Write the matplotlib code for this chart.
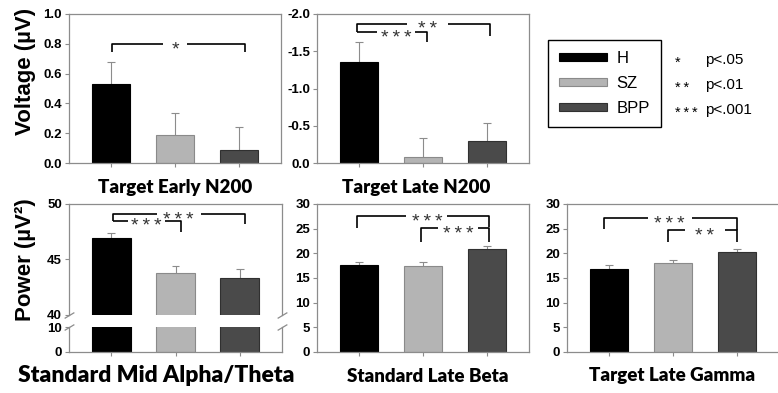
import numpy as np
import matplotlib
matplotlib.use("Agg")
import matplotlib.pyplot as plt

plt.rcParams['axes.unicode_minus'] = False

# group names and bar colours
groups = ['H', 'SZ', 'BPP']
face_colors = ['#000000', '#b4b4b4', '#4a4a4a']
edge_colors = ['#000000', '#8a8a8a', '#303030']

# values (mean, upper error)
early_n200 = [0.53, 0.19, 0.085]
early_n200_err = [0.15, 0.145, 0.155]
late_n200 = [-1.35, -0.08, -0.29]
late_n200_err = [0.27, 0.25, 0.25]
alpha_theta = [46.9, 43.8, 43.3]
alpha_theta_err = [0.5, 0.6, 0.8]
late_beta = [17.6, 17.5, 20.9]
late_beta_err = [0.6, 0.7, 0.5]
late_gamma = [16.9, 18.0, 20.3]
late_gamma_err = [0.7, 0.6, 0.6]

p_stars = ['*', '**', '***']
p_labels = ['p<.05', 'p<.01', 'p<.001']

W, H = 778, 393
fig = plt.figure(figsize=(W / 100, H / 100), dpi=100)

TICK_FONT = dict(family='Liberation Sans', weight='bold', size=9.5)
TITLE_FONT = dict(family='Lato', weight='heavy', size=13.5)
STAR_SIZE = 14
THIN = '\u2009'


def spaced(s):
    # asterisks in the figure are set apart a little
    return THIN.join(s)


def px_axes(left, top, right, bottom):
    # add an axes using pixel edges measured from the top-left corner
    return fig.add_axes([left / W, 1 - bottom / H, (right - left) / W, (bottom - top) / H])


def style_axes(ax, ylim, yticks, fmt):
    ax.set_xlim(-0.66, 2.66)
    ax.set_ylim(*ylim)
    ax.set_yticks(yticks)
    ax.set_yticklabels([fmt.format(t) for t in yticks], **TICK_FONT)
    ax.set_xticks(range(len(groups)))
    ax.set_xticklabels([])
    for s in ax.spines.values():
        s.set_color('#8c8c8c')
        s.set_linewidth(0.9)
    ax.tick_params(length=3, width=0.8, color='#8c8c8c', labelcolor='black', pad=2)


def draw_bars(ax, values, errors):
    x = np.arange(len(values))
    bars = ax.bar(x, values, width=0.6, color=face_colors, edgecolor=edge_colors,
                  linewidth=0.8, zorder=2)
    vals = np.array(values)
    tips = vals + np.sign(vals) * np.array(errors)
    ax.vlines(x, vals, tips, color='#8c8c8c', lw=0.8, zorder=1)
    ax.hlines(tips, x - 0.06, x + 0.06, color='#8c8c8c', lw=0.8, zorder=1)
    return bars


def bracket(ax, x1, x2, y, y1, y2, label, lx, gap):
    kw = dict(color='black', lw=1.2, solid_capstyle='butt', clip_on=False)
    ax.plot([x1, x1, lx - gap], [y1, y, y], **kw)
    ax.plot([lx + gap, x2, x2], [y, y, y2], **kw)
    ax.annotate(spaced(label), (lx, y), xytext=(0, -0.55 * STAR_SIZE),
                textcoords='offset points', ha='center', va='baseline', color='#333333',
                family='Liberation Sans', size=STAR_SIZE, annotation_clip=False)


def break_marks(ax, yaxes):
    d = 0.6
    ax.plot([0, 1], [yaxes, yaxes], transform=ax.transAxes, marker=[(-1, -d), (1, d)],
            markersize=7, linestyle='none', color='#8c8c8c', mec='#8c8c8c', mew=0.9,
            clip_on=False)


# top left: target early N200
ax1 = px_axes(69, 14, 281, 163)
bars = draw_bars(ax1, early_n200, early_n200_err)
style_axes(ax1, (0, 1.0), [0, 0.2, 0.4, 0.6, 0.8, 1.0], '{:.1f}')
bracket(ax1, 0.02, 2.09, 0.80, 0.745, 0.745, '*', 1.0, 0.195)

# top middle: target late N200 (negative up)
ax2 = px_axes(317, 14, 529, 163)
draw_bars(ax2, late_n200, late_n200_err)
style_axes(ax2, (0, -2.0), [0, -0.5, -1.0, -1.5, -2.0], '{:.1f}')
bracket(ax2, -0.03, 2.05, -1.87, -1.76, -1.70, '**', 1.07, 0.32)
bracket(ax2, -0.03, 1.06, -1.76, -1.76, -1.62, '***', 0.58, 0.30)

# bottom left: standard mid alpha/theta with a broken axis
ax3 = px_axes(69, 204, 282, 315)
draw_bars(ax3, alpha_theta, alpha_theta_err)
style_axes(ax3, (40, 50), [40, 45, 50], '{:.0f}')
ax3.spines['bottom'].set_visible(False)
ax3.tick_params(axis='x', length=0)
bracket(ax3, 0.02, 2.09, 49.1, 48.5, 48.2, '***', 1.05, 0.34)
bracket(ax3, 0.02, 1.08, 48.5, 48.5, 47.5, '***', 0.55, 0.29)
break_marks(ax3, 0)

ax3b = px_axes(69, 327, 282, 352)
draw_bars(ax3b, alpha_theta, alpha_theta_err)
style_axes(ax3b, (0, 10), [0, 10], '{:.0f}')
ax3b.spines['top'].set_visible(False)
break_marks(ax3b, 1)

# bottom middle: standard late beta
ax4 = px_axes(317, 204, 529, 352)
draw_bars(ax4, late_beta, late_beta_err)
style_axes(ax4, (0, 30), [0, 5, 10, 15, 20, 25, 30], '{:.0f}')
bracket(ax4, -0.03, 2.03, 27.6, 25.1, 25.3, '***', 1.06, 0.32)
bracket(ax4, 0.97, 2.03, 25.1, 22.3, 22.3, '***', 1.55, 0.31)

# bottom right: target late gamma
ax5 = px_axes(567, 204, 779, 352)
draw_bars(ax5, late_gamma, late_gamma_err)
style_axes(ax5, (0, 30), [0, 5, 10, 15, 20, 25, 30], '{:.0f}')
bracket(ax5, -0.08, 2.0, 27.2, 24.9, 24.7, '***', 0.95, 0.34)
bracket(ax5, 0.92, 2.0, 24.7, 22.3, 22.3, '**', 1.5, 0.31)

# panel titles
fig.text(175 / W, 1 - 187 / H, 'Target Early N200', ha='center', va='center', **TITLE_FONT)
fig.text(416 / W, 1 - 187 / H, 'Target Late N200', ha='center', va='center', **TITLE_FONT)
fig.text(156 / W, 1 - 376 / H, 'Standard Mid Alpha/Theta', ha='center', va='center',
         family='Lato', weight='heavy', size=16.5)
fig.text(428 / W, 1 - 376 / H, 'Standard Late Beta', ha='center', va='center', **TITLE_FONT)
fig.text(672 / W, 1 - 376 / H, 'Target Late Gamma', ha='center', va='center', **TITLE_FONT)

# y labels
fig.text(25 / W, 1 - 71 / H, 'Voltage (µV)', rotation=90, ha='center', va='center',
         family='Liberation Sans', weight='bold', size=16)
fig.text(26 / W, 1 - 260 / H, 'Power (µV²)', rotation=90, ha='center', va='center',
         family='Liberation Sans', weight='bold', size=16)

# legend
leg = fig.legend(list(bars), groups, loc='upper left', bbox_to_anchor=(548 / W, 1 - 40 / H),
                 frameon=True, fancybox=False, edgecolor='black', framealpha=1,
                 prop=dict(family='Liberation Sans', size=12), handlelength=2.9,
                 handleheight=0.4, labelspacing=0.6, borderpad=0.65,
                 handletextpad=0.55, borderaxespad=0)
leg.get_frame().set_linewidth(1.0)

for i, (s, p) in enumerate(zip(p_stars, p_labels)):
    y = 1 - (60 + 25 * i) / H
    fig.text(675 / W, y - 0.008, spaced(s), ha='left', va='center', family='Liberation Sans',
             size=10.5)
    fig.text(705 / W, y, p, ha='left', va='center', family='Liberation Sans', size=11)

fig.savefig('out.png', dpi=100)
